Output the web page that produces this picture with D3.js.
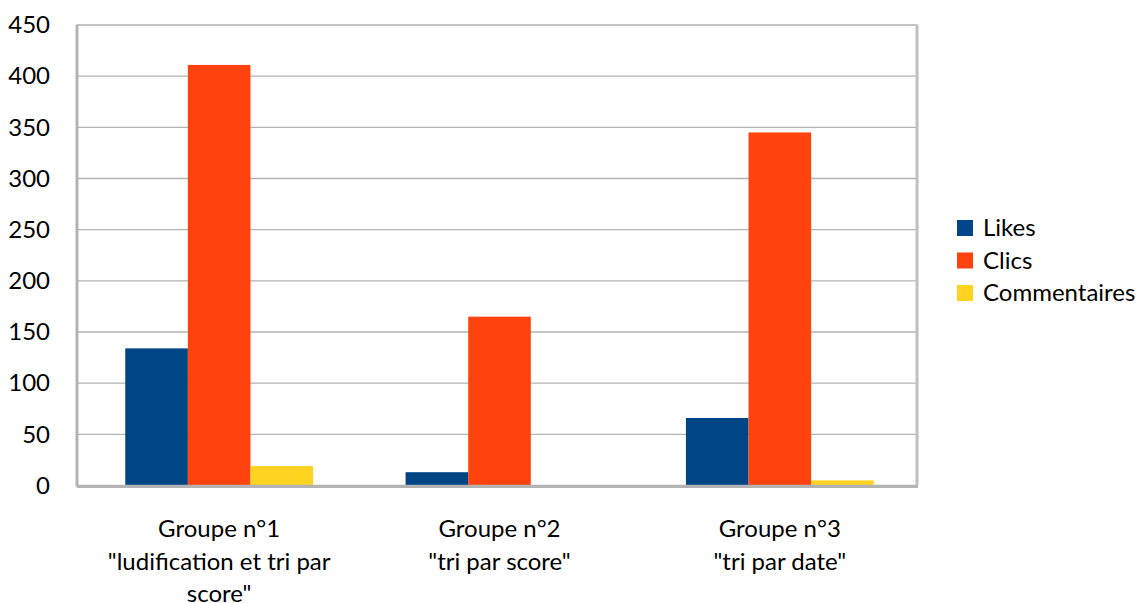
<!DOCTYPE html>
<html>
<head>
<meta charset="utf-8">
<script src="https://cdn.jsdelivr.net/npm/d3@7"></script>
<style>
  body { margin: 0; background: #fff; }
  text { font-family: Lato, "Noto Sans", sans-serif; fill: #000; }
</style>
</head>
<body>
<svg id="chart" width="1144" height="603"></svg>
<script>
// data
var groups = ["g1", "g2", "g3"];
var groupLabels = [
  ["Groupe n°1", "\"ludification et tri par", "score\""],
  ["Groupe n°2", "\"tri par score\""],
  ["Groupe n°3", "\"tri par date\""]
];
var seriesNames = ["Likes", "Clics", "Commentaires"];
var likes = [134, 13, 66];
var clics = [411, 165, 345];
var commentaires = [19, 0, 5];
var yTicks = [0, 50, 100, 150, 200, 250, 300, 350, 400, 450];
var colors = ["#004586", "#ff420e", "#ffd320"];

var series = [likes, clics, commentaires];

var svg = d3.select("#chart");
var pLeft = 77, pRight = 917, pTop = 25, pBottom = 485.5;
var fs = 24;

// bands are shifted a little to the right in the original
var x = d3.scaleBand().domain(groups).range([pLeft + 2, pRight + 3]).paddingInner(0.33).paddingOuter(0.165);
var xs = d3.scaleBand().domain(seriesNames).range([0, x.bandwidth()]);
var y = d3.scaleLinear().domain([0, 450]).range([pBottom, pTop]);

// grid
svg.append("g").selectAll("line").data(yTicks.slice(1, -1)).enter().append("line")
  .attr("x1", pLeft).attr("x2", pRight)
  .attr("y1", function(d){ return y(d) }).attr("y2", function(d){ return y(d) })
  .attr("stroke", "#b3b3b3").attr("stroke-width", 1.3);

// bars
series.forEach(function(vals, si){
  svg.append("g").selectAll("rect").data(vals).enter().append("rect")
    .attr("x", function(d, i){ return x(groups[i]) + xs(seriesNames[si]) })
    .attr("width", xs.bandwidth())
    .attr("y", function(d){ return y(d) })
    .attr("height", function(d){ return pBottom - y(d) })
    .attr("fill", colors[si]);
});

// frame
svg.append("rect").attr("x", pLeft).attr("y", pTop).attr("width", pRight - pLeft).attr("height", pBottom - pTop)
  .attr("fill", "none").attr("stroke", "#b3b3b3").attr("stroke-width", 1.5);
svg.append("line").attr("x1", pLeft).attr("x2", pLeft).attr("y1", pTop).attr("y2", pBottom + 1)
  .attr("stroke", "#b3b3b3").attr("stroke-width", 3);
svg.append("line").attr("x1", pLeft).attr("x2", pRight + 1).attr("y1", pBottom + 1).attr("y2", pBottom + 1)
  .attr("stroke", "#b3b3b3").attr("stroke-width", 3);
svg.append("line").attr("x1", pRight).attr("x2", pRight).attr("y1", pTop).attr("y2", pBottom)
  .attr("stroke", "#c0c0c0").attr("stroke-width", 3);

// y axis labels
var yAxis = d3.axisLeft(y).tickValues(yTicks).tickSize(0).tickPadding(27);
var ya = svg.append("g").attr("transform", "translate(" + pLeft + ",0)").call(yAxis);
ya.select(".domain").remove();
ya.selectAll("text").attr("font-size", fs).attr("font-family", "Lato").attr("fill", "#000");

// x labels
groupLabels.forEach(function(lines, i){
  var cx = x(groups[i]) + x.bandwidth() / 2;
  var t = svg.append("text").attr("text-anchor", "middle").attr("font-size", fs)
    .attr("x", cx).attr("y", 537);
  lines.forEach(function(l, k){
    t.append("tspan").attr("x", cx).attr("dy", k ? 32.5 : 0).text(l);
  });
});

// legend
var lg = svg.append("g").attr("transform", "translate(957,220)");
seriesNames.forEach(function(n, i){
  lg.append("rect").attr("x", 0).attr("y", i * 32.5).attr("width", 16).attr("height", 16).attr("fill", colors[i]);
  lg.append("text").attr("x", 26).attr("y", i * 32.5 + 8).attr("dy", "0.35em").attr("font-size", fs).text(n);
});
</script>
</body>
</html>
